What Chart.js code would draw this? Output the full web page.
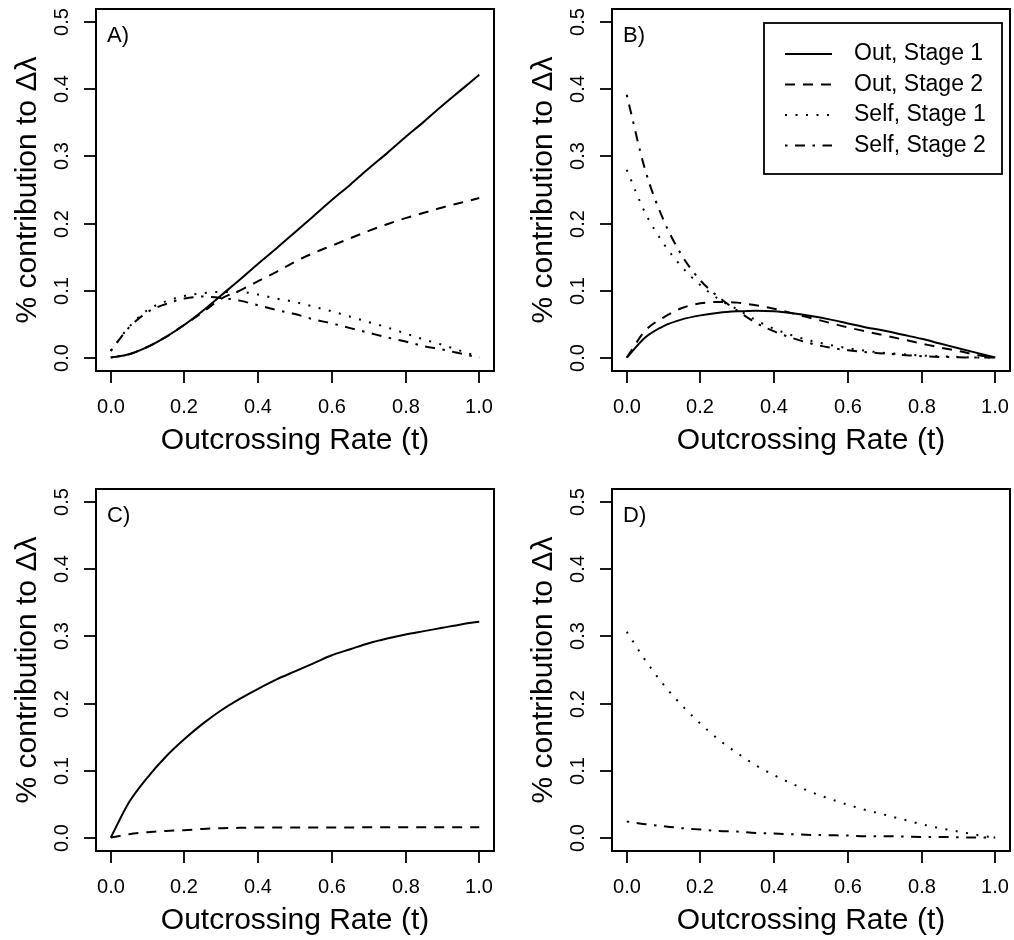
<!DOCTYPE html>
<html>
<head>
<meta charset="utf-8">
<script src="https://cdn.jsdelivr.net/npm/chart.js@4.4.1/dist/chart.umd.min.js"></script>
<style>
  body { margin: 0; background: #fff; }
  #wrap { position: relative; width: 1014px; height: 940px; }
  canvas { position: absolute; }
</style>
</head>
<body>
<div id="wrap">
  <canvas id="panelA" width="507" height="470" style="left:0;top:0"></canvas>
  <canvas id="panelB" width="507" height="470" style="left:507px;top:0"></canvas>
  <canvas id="panelC" width="507" height="470" style="left:0;top:470px"></canvas>
  <canvas id="panelD" width="507" height="470" style="left:507px;top:470px"></canvas>
</div>
<script>
// outcrossing rate grid (x values shared by every curve)
const tValues = [0, 0.05, 0.1, 0.15, 0.2, 0.25, 0.3, 0.35, 0.4, 0.45, 0.5,
                 0.55, 0.6, 0.65, 0.7, 0.75, 0.8, 0.85, 0.9, 0.95, 1.0];
const xTicks = [0, 0.2, 0.4, 0.6, 0.8, 1.0];
const yTicks = [0, 0.1, 0.2, 0.3, 0.4, 0.5];
const seriesNames = ['Out, Stage 1', 'Out, Stage 2', 'Self, Stage 1', 'Self, Stage 2'];
const xTitle = 'Outcrossing Rate (t)';
const yTitle = '% contribution to \u0394\u03bb';

// panel A
const aOut1  = [0, 0.005, 0.016, 0.031, 0.049, 0.07, 0.093, 0.116, 0.14, 0.163, 0.187,
                0.211, 0.235, 0.258, 0.282, 0.305, 0.329, 0.352, 0.376, 0.399, 0.422];
const aOut2  = [0, 0.005, 0.016, 0.031, 0.049, 0.068, 0.088, 0.1, 0.114, 0.128, 0.143,
                0.156, 0.167, 0.178, 0.189, 0.199, 0.208, 0.216, 0.224, 0.231, 0.238];
const aSelf1 = [0.01, 0.046, 0.071, 0.084, 0.092, 0.096, 0.098, 0.098, 0.094, 0.088, 0.083,
                0.076, 0.069, 0.061, 0.053, 0.045, 0.036, 0.027, 0.019, 0.01, 0.001];
const aSelf2 = [0.01, 0.045, 0.068, 0.08, 0.088, 0.091, 0.089, 0.085, 0.078, 0.071, 0.065,
                0.057, 0.051, 0.044, 0.037, 0.03, 0.024, 0.017, 0.012, 0.006, 0];
// panel B
const bOut1  = [0, 0.03, 0.047, 0.057, 0.063, 0.067, 0.069, 0.07, 0.069, 0.066, 0.062,
                0.057, 0.051, 0.045, 0.04, 0.034, 0.028, 0.021, 0.014, 0.007, 0];
const bOut2  = [0, 0.04, 0.06, 0.074, 0.081, 0.083, 0.082, 0.078, 0.073, 0.066, 0.059,
                0.052, 0.045, 0.039, 0.033, 0.027, 0.021, 0.015, 0.01, 0.004, 0];
const bSelf1 = [0.28, 0.216, 0.17, 0.135, 0.108, 0.087, 0.072, 0.056, 0.043, 0.033, 0.025,
                0.019, 0.014, 0.01, 0.007, 0.005, 0.003, 0.002, 0.001, 0, 0];
const bSelf2 = [0.392, 0.28, 0.205, 0.152, 0.115, 0.09, 0.07, 0.052, 0.039, 0.029, 0.021,
                0.015, 0.011, 0.008, 0.006, 0.004, 0.002, 0.001, 0.0005, 0, 0];
// panel C
const cOut1  = [0, 0.053, 0.09, 0.121, 0.147, 0.17, 0.19, 0.207, 0.222, 0.236, 0.248,
                0.26, 0.272, 0.281, 0.29, 0.297, 0.303, 0.308, 0.313, 0.318, 0.322];
const cOut2  = [0, 0.005, 0.008, 0.01, 0.011, 0.013, 0.014, 0.0145, 0.015, 0.015, 0.015,
                0.015, 0.015, 0.015, 0.0155, 0.0155, 0.0155, 0.0155, 0.0155, 0.0155, 0.0155];
// panel D
const dSelf1 = [0.307, 0.265, 0.228, 0.197, 0.17, 0.146, 0.126, 0.108, 0.093, 0.08, 0.068,
                0.058, 0.049, 0.041, 0.034, 0.027, 0.02, 0.014, 0.009, 0.004, 0];
const dSelf2 = [0.024, 0.02, 0.017, 0.014, 0.012, 0.01, 0.009, 0.007, 0.006, 0.005, 0.004,
                0.0035, 0.003, 0.002, 0.002, 0.0015, 0.001, 0.001, 0.0005, 0, 0];

const FONT = '"Liberation Sans", Arial, Helvetica, sans-serif';
// R line types: solid, dashed, dotted, dotdash
const dashes = [[], [10, 8], [2, 8.5], [2.5, 7.5, 10, 7.5]];

function toPoints(ys) {
    return ys.map((y, i) => ({ x: tValues[i], y: y }));
}

function lineSet(idx, ys) {
    return {
        label: seriesNames[idx],
        data: toPoints(ys),
        borderColor: '#000',
        borderWidth: 2,
        borderDash: dashes[idx],
        pointRadius: 0,
        fill: false,
        cubicInterpolationMode: 'monotone'
    };
}

// R-style frame: box, outward ticks, rotated y labels, titles, panel letter, legend
const rFrame = {
    id: 'rFrame',
    afterDatasetsDraw(chart, args, opts) {
        const ctx = chart.ctx;
        const a = chart.chartArea;
        const xs = chart.scales.x, ys = chart.scales.y;
        ctx.save();
        ctx.strokeStyle = '#000';
        ctx.fillStyle = '#000';
        ctx.lineWidth = 2;
        ctx.setLineDash([]);
        ctx.strokeRect(a.left, a.top, a.right - a.left, a.bottom - a.top);

        // x axis
        ctx.lineWidth = 1.8;
        ctx.font = '20px ' + FONT;
        ctx.textAlign = 'center';
        ctx.textBaseline = 'middle';
        xTicks.forEach(v => {
            const px = Math.round(xs.getPixelForValue(v));
            ctx.beginPath();
            ctx.moveTo(px, a.bottom);
            ctx.lineTo(px, a.bottom + 12);
            ctx.stroke();
            ctx.fillText(v.toFixed(1), px, a.bottom + 36);
        });
        ctx.font = '30px ' + FONT;
        ctx.fillText(xTitle, (a.left + a.right) / 2, a.bottom + 70);

        // y axis
        ctx.font = '20px ' + FONT;
        yTicks.forEach(v => {
            const py = Math.round(ys.getPixelForValue(v));
            ctx.beginPath();
            ctx.moveTo(a.left, py);
            ctx.lineTo(a.left - 12, py);
            ctx.stroke();
            ctx.save();
            ctx.translate(a.left - 34, py);
            ctx.rotate(-Math.PI / 2);
            ctx.fillText(v.toFixed(1), 0, 0);
            ctx.restore();
        });
        ctx.save();
        ctx.font = '30px ' + FONT;
        ctx.translate(a.left - 68, (a.top + a.bottom) / 2);
        ctx.rotate(-Math.PI / 2);
        ctx.fillText(yTitle, 0, 0);
        ctx.restore();

        // panel letter
        ctx.font = '22px ' + FONT;
        ctx.textAlign = 'left';
        ctx.fillText(opts.letter, a.left + 11, a.top + 27);

        if (opts.legend) {
            const w = 238, h = 151;
            const lx = a.right - 8 - w, ly = a.top + 14;
            ctx.lineWidth = 1.8;
            ctx.strokeRect(lx, ly, w, h);
            ctx.font = '23px ' + FONT;
            seriesNames.forEach((name, i) => {
                const ry = ly + 31 + i * 30.5;
                ctx.setLineDash(dashes[i]);
                ctx.lineWidth = 2;
                ctx.beginPath();
                ctx.moveTo(lx + 21, ry);
                ctx.lineTo(lx + 68, ry);
                ctx.stroke();
                ctx.setLineDash([]);
                ctx.fillText(name, lx + 90, ry);
            });
        }
        ctx.restore();
    }
};

function makePanel(id, letter, datasets, pad, legend) {
    new Chart(document.getElementById(id), {
        type: 'line',
        data: { datasets: datasets },
        options: {
            responsive: false,
            animation: false,
            layout: { padding: pad },
            plugins: {
                legend: { display: false },
                tooltip: { enabled: false },
                rFrame: { letter: letter, legend: legend }
            },
            scales: {
                x: { type: 'linear', min: -0.04, max: 1.04, display: false },
                y: { type: 'linear', min: -0.02, max: 0.52, display: false }
            }
        },
        plugins: [rFrame]
    });
}

makePanel('panelA', 'A)', [lineSet(0, aOut1), lineSet(1, aOut2), lineSet(2, aSelf1), lineSet(3, aSelf2)],
    { left: 96, right: 13, top: 9, bottom: 99 }, false);
makePanel('panelB', 'B)', [lineSet(0, bOut1), lineSet(1, bOut2), lineSet(2, bSelf1), lineSet(3, bSelf2)],
    { left: 105, right: 4, top: 9, bottom: 99 }, true);
makePanel('panelC', 'C)', [lineSet(0, cOut1), lineSet(1, cOut2)],
    { left: 96, right: 13, top: 19, bottom: 89 }, false);
makePanel('panelD', 'D)', [lineSet(2, dSelf1), lineSet(3, dSelf2)],
    { left: 105, right: 4, top: 19, bottom: 89 }, false);
</script>
</body>
</html>
